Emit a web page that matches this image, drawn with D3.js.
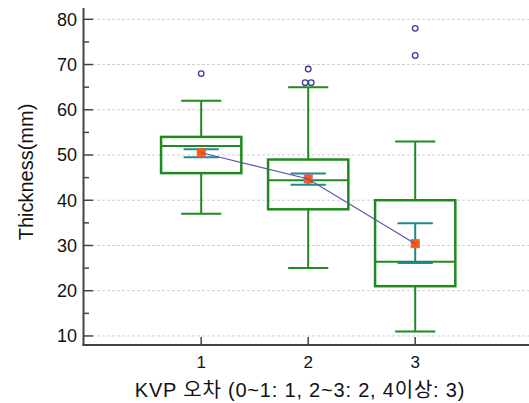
<!DOCTYPE html>
<html>
<head>
<meta charset="utf-8">
<script src="https://cdn.jsdelivr.net/npm/d3@7"></script>
<style>
body { margin: 0; background: #fff; }
svg { display: block; font-family: "Liberation Sans", Arial, "Noto Sans CJK KR", sans-serif; }
</style>
</head>
<body>
<div id="chart"></div>
<script>
// values
var groups = [1, 2, 3];
var q1 = [46, 38, 21];
var median = [52, 44.4, 26.4];
var q3 = [54, 49, 40];
var whiskLow = [37, 25, 11];
var whiskHigh = [62, 65, 53];
var means = [50.5, 44.7, 30.4];
var ciLow = [49.5, 43.4, 26.1];
var ciHigh = [51.3, 45.9, 34.9];
var outliers = [[68], [66, 66, 69], [72, 78]];
var yTicks = [10, 20, 30, 40, 50, 60, 70, 80];
var yMinor = [15, 25, 35, 45, 55, 65, 75];

var W = 529, H = 403;
var green = "#1f8a1f", teal = "#218a8c";

var svg = d3.select("#chart").append("svg").attr("width", W).attr("height", H);

var x = d3.scaleLinear().domain([-0.1, 4.1]).range([83.5, 83.5 + 4.2 * 107]);
var y = d3.scaleLinear().domain([8, 82.5]).range([345, 8]);

var boxW = 0.75, capW = 0.375, ciW = 0.33;

// grid
svg.append("g").selectAll("line").data(yTicks).enter().append("line")
  .attr("x1", 92).attr("x2", W)
  .attr("y1", function (d) { return y(d); }).attr("y2", function (d) { return y(d); })
  .style("stroke", "#cfcfcf").style("stroke-dasharray", "3,2");

var data = groups.map(function (g, i) {
  return { g: g, q1: q1[i], med: median[i], q3: q3[i], lo: whiskLow[i], hi: whiskHigh[i],
    mean: means[i], cl: ciLow[i], ch: ciHigh[i], out: outliers[i] };
});

var box = svg.append("g").selectAll("g").data(data).enter().append("g");

// whiskers
box.append("line")
  .attr("x1", function (d) { return x(d.g); }).attr("x2", function (d) { return x(d.g); })
  .attr("y1", function (d) { return y(d.q3); }).attr("y2", function (d) { return y(d.hi); })
  .style("stroke", green).style("stroke-width", 2);
box.append("line")
  .attr("x1", function (d) { return x(d.g); }).attr("x2", function (d) { return x(d.g); })
  .attr("y1", function (d) { return y(d.q1); }).attr("y2", function (d) { return y(d.lo); })
  .style("stroke", green).style("stroke-width", 2);
["hi", "lo"].forEach(function (k) {
  box.append("line")
    .attr("x1", function (d) { return x(d.g - capW / 2); }).attr("x2", function (d) { return x(d.g + capW / 2); })
    .attr("y1", function (d) { return y(d[k]); }).attr("y2", function (d) { return y(d[k]); })
    .style("stroke", green).style("stroke-width", 2);
});

// box
box.append("rect")
  .attr("x", function (d) { return x(d.g - boxW / 2); })
  .attr("width", x(boxW) - x(0))
  .attr("y", function (d) { return y(d.q3); })
  .attr("height", function (d) { return y(d.q1) - y(d.q3); })
  .style("fill", "none").style("stroke", green).style("stroke-width", 2.5);
box.append("line")
  .attr("x1", function (d) { return x(d.g - boxW / 2); }).attr("x2", function (d) { return x(d.g + boxW / 2); })
  .attr("y1", function (d) { return y(d.med); }).attr("y2", function (d) { return y(d.med); })
  .style("stroke", green).style("stroke-width", 2);

// confidence interval of mean
box.append("line")
  .attr("x1", function (d) { return x(d.g); }).attr("x2", function (d) { return x(d.g); })
  .attr("y1", function (d) { return y(d.ch); }).attr("y2", function (d) { return y(d.cl); })
  .style("stroke", teal).style("stroke-width", 2);
["ch", "cl"].forEach(function (k) {
  box.append("line")
    .attr("x1", function (d) { return x(d.g - ciW / 2); }).attr("x2", function (d) { return x(d.g + ciW / 2); })
    .attr("y1", function (d) { return y(d[k]); }).attr("y2", function (d) { return y(d[k]); })
    .style("stroke", teal).style("stroke-width", 2);
});

// mean line
svg.append("path").datum(data)
  .attr("d", d3.line().x(function (d) { return x(d.g); }).y(function (d) { return y(d.mean); }))
  .style("fill", "none").style("stroke", "#5a56a8").style("stroke-width", 1.2);

box.append("rect")
  .attr("x", function (d) { return x(d.g) - 4; }).attr("y", function (d) { return y(d.mean) - 4; })
  .attr("width", 8).attr("height", 8)
  .style("fill", "#ff5a0a").style("stroke", "#d86060").style("stroke-width", 1);

// outliers, equal values set side by side
box.each(function (d) {
  var pts = [];
  var counts = {};
  d.out.forEach(function (v) { counts[v] = (counts[v] || 0) + 1; });
  var seen = {};
  d.out.forEach(function (v) {
    var n = counts[v], k = seen[v] || 0;
    seen[v] = k + 1;
    pts.push({ v: v, dx: (k - (n - 1) / 2) * 6 });
  });
  d3.select(this).selectAll("circle").data(pts).enter().append("circle")
    .attr("cx", function (p) { return x(d.g) + p.dx; })
    .attr("cy", function (p) { return y(p.v); })
    .attr("r", 2.8)
    .style("fill", "none").style("stroke", "#3a3aa0").style("stroke-width", 1.3);
});

// y axis
var ya = svg.append("g");
ya.append("line").attr("x1", 83.5).attr("x2", 83.5).attr("y1", 8).attr("y2", 346)
  .style("stroke", "#444").style("stroke-width", 2);
ya.selectAll("line.maj").data(yTicks).enter().append("line")
  .attr("x1", 83.5).attr("x2", 93)
  .attr("y1", function (d) { return y(d); }).attr("y2", function (d) { return y(d); })
  .style("stroke", "#444").style("stroke-width", 1.5);
ya.selectAll("line.min").data(yMinor).enter().append("line")
  .attr("x1", 83.5).attr("x2", 89)
  .attr("y1", function (d) { return y(d); }).attr("y2", function (d) { return y(d); })
  .style("stroke", "#444").style("stroke-width", 1.5);
ya.selectAll("text").data(yTicks).enter().append("text")
  .attr("x", 77).attr("y", function (d) { return y(d); }).attr("dy", "0.35em")
  .attr("text-anchor", "end").style("font-size", "18px").style("fill", "#111")
  .text(function (d) { return d; });
svg.append("text").attr("transform", "translate(33,172) rotate(-90)")
  .attr("text-anchor", "middle").style("font-size", "20px").style("fill", "#111")
  .text("Thickness(mm)");

// x axis
var xa = svg.append("g");
xa.append("line").attr("x1", 82.5).attr("x2", W).attr("y1", 345).attr("y2", 345)
  .style("stroke", "#444").style("stroke-width", 2);
xa.selectAll("line.t").data(groups).enter().append("line")
  .attr("x1", function (d) { return x(d); }).attr("x2", function (d) { return x(d); })
  .attr("y1", 337).attr("y2", 345)
  .style("stroke", "#444").style("stroke-width", 1.5);
xa.selectAll("text").data(groups).enter().append("text")
  .attr("x", function (d) { return x(d); }).attr("y", 368)
  .attr("text-anchor", "middle").style("font-size", "17px").style("fill", "#111")
  .text(function (d) { return d; });
svg.append("text").attr("x", 300).attr("y", 397)
  .attr("text-anchor", "middle").style("font-size", "20px").style("letter-spacing", "0.8px")
  .style("fill", "#111")
  .text("KVP 오차 (0~1: 1, 2~3: 2, 4이상: 3)");
</script>
</body>
</html>
